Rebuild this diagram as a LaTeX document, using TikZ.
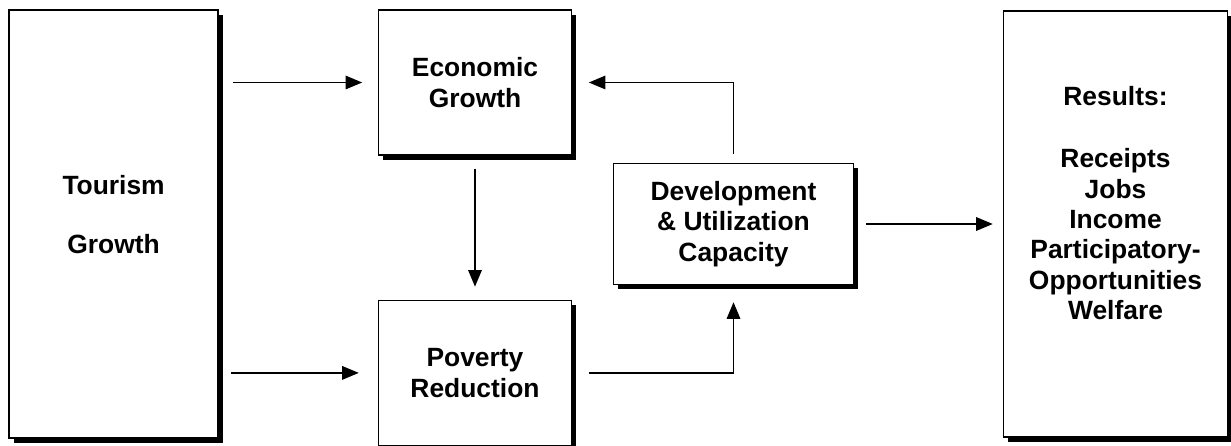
\documentclass[tikz,border=0pt]{standalone}
\usepackage{fontspec}
\setmainfont{Liberation Sans}
\usepackage{tikz}
\usetikzlibrary{arrows.meta,positioning,shadows}

\begin{document}
\begin{tikzpicture}[inner sep=1pt,
  box/.style={draw=black,line width=0.7pt,fill=white,align=center,
    font=\fontsize{13.2}{15.2}\selectfont\bfseries,
    drop shadow={shadow xshift=2.4pt,shadow yshift=-2.4pt,fill=black,opacity=1}},
  txt/.style={align=center,font=\fontsize{13.2}{15.2}\selectfont\bfseries},
  flow/.style={-{Triangle[length=8.3pt,width=6.7pt]},line width=0.9pt}]
\useasboundingbox[fill=white] (0,0) rectangle (615.5pt,222.5pt);

\node[box,minimum width=104.5pt,minimum height=214pt] (T) at (56.8pt,110.5pt) {};
\node[txt] (Ttxt) at ([yshift=4.75pt]T.center) {Tourism\\[14pt]Growth};
\node[box,minimum width=96.5pt,minimum height=72.5pt] (E) [below right=0pt and 79.5pt of T.north east] {Economic\\Growth};
\node[box,minimum width=96.5pt,minimum height=72.5pt] (P) [below=72pt of E] {Poverty\\Reduction};
\node[box,minimum width=120pt,minimum height=60.5pt] (D) [right=197pt of T] {Development\\\& Utilization\\Capacity};
\node[box,minimum width=112pt,minimum height=213pt] (R) [right=392pt of T] {};
\node[txt] (Rtxt) at ([yshift=10.5pt]R.center) {Results:\\[16pt]Receipts\\Jobs\\Income\\Participatory-\\Opportunities\\Welfare};

\draw[flow,shorten <=7.3pt,shorten >=7.8pt] (T.east |- E.west) -- (E.west);
\draw[flow,shorten <=6pt,shorten >=9.5pt] (T.east |- P.west) -- (P.west);
\draw[flow,shorten <=6.5pt,shorten >=6.5pt] (E) -- (P);
\draw[flow,shorten <=8.5pt,shorten >=8.5pt] (P.east) -| (D.south);
\draw[flow,shorten <=4.5pt,shorten >=8.3pt] (D.north) |- (E.east);
\draw[flow,shorten <=6pt,shorten >=5pt] (D.east) -- (D.east -| R.west);
\end{tikzpicture}
\end{document}
